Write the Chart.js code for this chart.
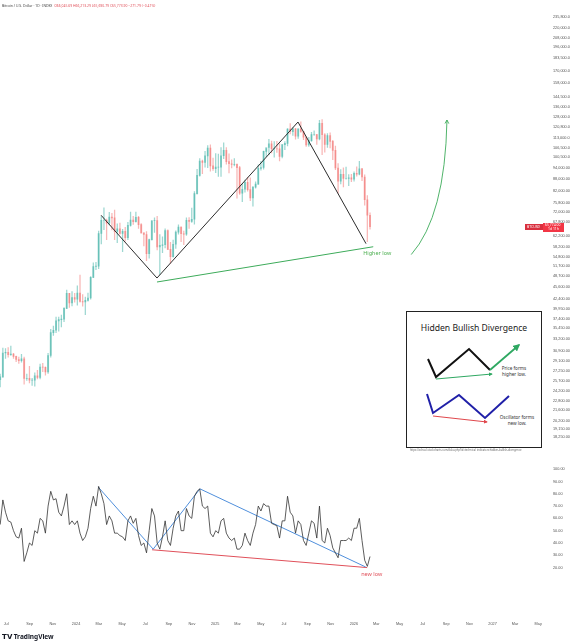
<!DOCTYPE html>
<html>
<head>
<meta charset="utf-8">
<script src="https://cdn.jsdelivr.net/npm/chart.js@4.4.1/dist/chart.umd.min.js"></script>
<style>
  html, body { margin: 0; padding: 0; background: #fff; }
  #wrap { position: relative; width: 576px; height: 643px; overflow: hidden; font-family: 'Noto Sans', Roboto, sans-serif; }
  #priceCanvas { position: absolute; left: 0; top: 0; }
  #rsiCanvas { position: absolute; left: 0; top: 457px; }
  .hdr { position: absolute; left: 2px; top: 3px; font-size: 3.4px; color: #444; white-space: nowrap; }
  .hdr span { color: #e0505a; }
  .logo { position: absolute; left: 2px; top: 632px; font-size: 6.5px; font-weight: 700; color: #131722; white-space: nowrap; }
  #inset { position: absolute; left: 406px; top: 311px; width: 134px; height: 135px; border: 1px solid #222; background: #fff; }
  .cap { position: absolute; left: 410px; top: 448px; font-size: 2.6px; color: #666; white-space: nowrap; }
</style>
</head>
<body>
<div id="wrap">
  <canvas id="priceCanvas" width="576" height="457"></canvas>
  <canvas id="rsiCanvas" width="576" height="186"></canvas>
  <div class="hdr">Bitcoin / U.S. Dollar · 1D · INDEX &nbsp;<span>O66,045.69 H66,213.29 L65,690.79 C65,773.90 −271.79 (−0.41%)</span></div>
  <div id="inset">
    <svg width="134" height="135" viewBox="0 0 134 135" font-family="Noto Sans, Roboto, sans-serif">
      <defs>
        <marker id="ag" viewBox="0 0 10 10" refX="8" refY="5" markerWidth="4" markerHeight="4" orient="auto">
          <path d="M0,0 L10,5 L0,10 z" fill="#2fa862"/>
        </marker>
        <marker id="ar" viewBox="0 0 10 10" refX="8" refY="5" markerWidth="4" markerHeight="4" orient="auto">
          <path d="M0,0 L10,5 L0,10 z" fill="#e0474c"/>
        </marker>
      </defs>
      <text x="67" y="19" font-size="8.6" text-anchor="middle" fill="#222">Hidden Bullish Divergence</text>
      <polyline points="21,47 29,65 62,37 83,58" fill="none" stroke="#111" stroke-width="2"/>
      <line x1="83" y1="58" x2="112" y2="33" stroke="#2fa862" stroke-width="1.8" marker-end="url(#ag)"/>
      <line x1="29" y1="67" x2="85" y2="62" stroke="#2fa862" stroke-width="1" marker-end="url(#ag)"/>
      <text x="107" y="58" font-size="4.6" text-anchor="middle" fill="#333">Price forms</text>
      <text x="107" y="64" font-size="4.6" text-anchor="middle" fill="#333">higher low.</text>
      <polyline points="20,82 26,101 52,83 78,106 102,84" fill="none" stroke="#2020a8" stroke-width="2"/>
      <line x1="26" y1="104" x2="80" y2="110" stroke="#e0474c" stroke-width="1" marker-end="url(#ar)"/>
      <text x="110" y="107" font-size="4.6" text-anchor="middle" fill="#333">Oscillator forms</text>
      <text x="110" y="113" font-size="4.6" text-anchor="middle" fill="#333">new low.</text>
    </svg>
  </div>
  <div class="cap">https://school.stockcharts.com/doku.php?id=technical_indicators:hidden-bullish-divergence</div>
  <div class="logo">𝗧𝗩 TradingView</div>
</div>
<script>
// weekly candles, first week starts Monday 2023-06-12 (day -203 counted from 2024-01-01)
const firstWeekDay = -203;

const weekOpen = [
  25900,26340,30470,30580,30170,30290,29850,29280,29060,29400,26100,26100,25830,25830,26530,26250,27970,27930,27160,30000,34500,35000,37050,37350,37450,39970,43800,41350,42700,
  42270,43900,41700,41600,42000,42600,48300,51600,51700,63100,68400,68400,67200,69700,69400,63900,64900,63100,63900,61500,66300,68500,67800,69600,66600,63300,62700,55800,60800,68200,68300,58100,58700,58900,64200,57300,54800,59100,63600,65600,63000,62800,68400,67900,68800,80400,89900,98000,97200,101200,106100,95200,93700,
  94500,94500,101300,104700,97700,96500,96100,96200,94200,80700,82600,86100,82400,78400,83700,85200,93800,94300,104000,106500,109000,105700,105700,105600,100900,108400,109200,119100,117300,119400,114200,119300,117400,113500,108200,111100,115300,115300,112200,123500,115100,108600,114500,110600,104700,94000,86800,90400,88200,88200,88500,87800,
  91000,90500,93600,89000,77500,70500
];
const weekHigh = [
  26800,31400,31300,31500,31800,30400,29900,29700,30200,29700,26800,28100,26100,27000,27400,28500,28600,28000,30400,35200,35900,37900,37900,38400,40200,44700,43800,44300,43800,
  45900,49000,43500,42800,43900,48500,52800,52900,64000,69900,73800,68900,71800,71300,72800,66900,67200,64700,65500,67500,71900,70000,71900,70000,67000,63300,63800,61000,68300,69400,70000,62700,61800,64900,64500,59800,60600,64100,66500,65700,64000,69400,69500,73600,81500,93300,99600,98700,104000,107800,108300,99900,102700,
  102300,106400,109600,106500,102500,98800,99500,96500,95000,85300,87400,88800,88500,84000,86400,95800,97900,104300,105800,111900,110700,110500,110600,108900,108500,110500,119500,123200,120200,119800,119300,124500,117600,113600,113400,116800,117900,115400,125700,126200,116000,115900,116400,111200,107500,96600,93100,94100,94600,90300,90500,91800,
  94700,97900,93800,90200,79500,71500
];
const weekLow = [
  24800,26250,29500,29700,30000,29500,28900,28600,28800,25200,25800,25400,25000,24900,26000,26000,27200,26600,26900,29700,33900,34500,34800,35700,36900,39900,40200,40600,41500,
  40800,41500,40500,38500,41800,42300,48200,50600,50900,59200,64600,60800,66500,64500,60800,59700,62800,56500,60200,60800,66000,66700,67600,65100,63200,58500,53500,54300,60600,63500,57100,49100,56100,57800,57200,52600,54600,57600,62800,60000,58900,62400,65100,67500,66800,80200,89400,90800,94500,94200,92200,92600,91400,
  89300,89300,99500,96200,91200,94100,95200,78200,80100,76600,81100,81600,77100,74500,83100,85100,92800,93400,100700,102000,103100,100400,103400,98200,100000,105100,107500,115700,114700,112000,112600,116800,111700,107300,107300,110600,114700,108600,111600,102000,103500,106500,106300,98900,93000,80600,85300,83800,87900,84400,86500,86800,
  89500,90200,87000,75000,60000,64800
];
const weekClose = [
  26340,30470,30580,30170,30290,29850,29280,29060,29400,26100,26100,25830,25830,26530,26250,27970,27930,27160,30000,34500,35000,37050,37350,37450,39970,43800,41350,42700,42270,
  43900,41700,41600,42000,42600,48300,51600,51700,63100,68400,68400,67200,69700,69400,63900,64900,63100,63900,61500,66300,68500,67800,69600,66600,63300,62700,55800,60800,68200,68300,58100,58700,58900,64200,57300,54800,59100,63600,65600,63000,62800,68400,67900,68800,80400,89900,98000,97200,101200,106100,95200,93700,94500,
  94500,101300,104700,97700,96500,96100,96200,94200,80700,82600,86100,82400,78400,83700,85200,93800,94300,104000,106500,109000,105700,105700,105600,100900,108400,109200,119100,117300,119400,114200,119300,117400,113500,108200,111100,115300,115300,112200,123500,115100,108600,114500,110600,104700,94000,86800,90400,88200,88200,88500,87800,91000,
  90500,93600,89000,77500,70500,65774
];

// oscillator value at the end of each week
const rsiValues = [
  55,75,65,58,57,50,45,44,52,25,32,40,38,50,48,60,58,48,70,82,75,76,65,62,70,80,55,58,55,
  58,48,42,45,52,68,78,70,86,80,72,55,62,58,48,48,46,45,42,58,62,56,60,46,38,40,32,50,68,62,40,35,45,58,42,38,52,62,66,50,50,68,62,60,78,82,84,70,68,70,48,45,50,
  48,58,60,48,44,42,44,35,35,38,48,42,38,48,55,70,66,72,70,70,56,55,54,44,58,58,78,65,62,48,58,55,42,38,48,58,56,44,70,42,40,52,46,36,32,28,42,42,42,44,42,52,
  52,60,42,26,21,29
];

// drawings, x in days from 2024-01-01
const zigzagDays = [66, 213, 584, 763];
const zigzagPrices = [70500, 48100, 124400, 59300];
const higherLowDays = [213, 782];
const higherLowPrices = [46950, 58200];
const arrowDays = [882, 971, 976];     // start, bend, tip
const arrowPrices = [55500, 70100, 125900];

const rsiBlueDays = [58, 203, 326, 762];
const rsiBlueValues = [85.6, 35, 84, 20.5];
const rsiRedDays = [200, 766];
const rsiRedValues = [34.5, 20];

// axis labels
const priceTicks = [235800, 220000, 208000, 196000, 183500, 170000, 158000, 144500, 136000, 128000, 120800, 113000, 106500, 100500,
  94000, 88000, 82000, 75800, 72000, 67800, 62200, 58200, 54800, 51700, 48700, 45600, 42400, 39950, 37400, 35450, 33200,
  30900, 29100, 27250, 25700, 24200, 22800, 21600, 20200, 19150, 18250];
const rsiTicks = [100, 90, 80, 70, 60, 50, 40, 30, 20];
const monthTickDates = ['2023-07-01','2023-09-01','2023-11-01','2024-01-01','2024-03-01','2024-05-01','2024-07-01','2024-09-01','2024-11-01',
  '2025-01-01','2025-03-01','2025-05-01','2025-07-01','2025-09-01','2025-11-01','2026-01-01','2026-03-01','2026-05-01','2026-07-01',
  '2026-09-01','2026-11-01','2027-01-01','2027-03-01','2027-05-01'];
const monthTickLabels = ['Jul','Sep','Nov','2024','Mar','May','Jul','Sep','Nov','2025','Mar','May','Jul','Sep','Nov','2026','Mar','May','Jul','Sep','Nov','2027','Mar','May'];

const dayMin = -200, dayMax = 1226;
const upColor = 'rgba(38,166,154,0.45)';
const downColor = 'rgba(239,83,80,0.42)';

const candleX = i => firstWeekDay + 7 * i + 3.5;
const isUp = i => weekClose[i] >= weekOpen[i];
const dayOf = s => (Date.UTC(+s.slice(0, 4), +s.slice(5, 7) - 1, +s.slice(8, 10)) - Date.UTC(2024, 0, 1)) / 864e5;
const fmtPrice = v => v >= 100000
  ? v.toLocaleString('en-US', { minimumFractionDigits: 1, maximumFractionDigits: 1 })
  : v.toLocaleString('en-US', { minimumFractionDigits: 2, maximumFractionDigits: 2 });

// green curved arrow + price badge
const priceExtras = {
  id: 'priceExtras',
  afterDatasetsDraw(chart) {
    const { ctx, scales: { x, y } } = chart;
    const p = arrowDays.map((d, i) => [x.getPixelForValue(d), y.getPixelForValue(arrowPrices[i])]);
    ctx.save();
    ctx.strokeStyle = '#3dab5a';
    ctx.lineWidth = 0.9;
    ctx.beginPath();
    ctx.moveTo(p[0][0], p[0][1]);
    ctx.quadraticCurveTo(p[1][0], p[1][1], p[2][0], p[2][1]);
    ctx.stroke();
    const ang = Math.atan2(p[2][1] - p[1][1], p[2][0] - p[1][0]);
    ctx.beginPath();
    ctx.moveTo(p[2][0] - 4 * Math.cos(ang - 0.5), p[2][1] - 4 * Math.sin(ang - 0.5));
    ctx.lineTo(p[2][0], p[2][1]);
    ctx.lineTo(p[2][0] - 4 * Math.cos(ang + 0.5), p[2][1] - 4 * Math.sin(ang + 0.5));
    ctx.stroke();

    // "Higher low" label under the green line end
    ctx.fillStyle = '#4caf50';
    ctx.font = '5.5px "Noto Sans", sans-serif';
    ctx.textBaseline = 'middle';
    ctx.fillText('Higher low', x.getPixelForValue(higherLowDays[1]) - 10, y.getPixelForValue(higherLowPrices[1]) + 7);

    // last price badge
    const last = weekClose[weekClose.length - 1];
    const by = Math.round(y.getPixelForValue(last));
    ctx.fillStyle = '#d9303f';
    ctx.fillRect(525, by - 3, 18, 6);
    ctx.fillStyle = '#f23645';
    ctx.fillRect(543, by - 4, 21, 9);
    ctx.fillStyle = '#fff';
    ctx.font = '3.4px "Noto Sans", sans-serif';
    ctx.fillText('BTCUSD', 527, by);
    ctx.fillText(fmtPrice(last), 545, by - 1.5);
    ctx.fillText('1d 11h', 548, by + 2.5);
    ctx.restore();
  }
};

new Chart(document.getElementById('priceCanvas'), {
  type: 'bar',
  data: {
    datasets: [
      {
        label: 'wick',
        data: weekHigh.map((h, i) => ({ x: candleX(i), y: [weekLow[i], h] })),
        backgroundColor: weekHigh.map((h, i) => isUp(i) ? upColor : downColor),
        barThickness: 0.6,
        grouped: false,
        order: 3
      },
      {
        label: 'body',
        data: weekOpen.map((o, i) => ({ x: candleX(i), y: [Math.min(o, weekClose[i]), Math.max(o, weekClose[i])] })),
        backgroundColor: weekOpen.map((o, i) => isUp(i) ? upColor : downColor),
        barThickness: 1.3,
        grouped: false,
        order: 2
      },
      {
        type: 'line',
        label: 'zigzag',
        data: zigzagDays.map((d, i) => ({ x: d, y: zigzagPrices[i] })),
        borderColor: '#2b2b2b',
        borderWidth: 1,
        pointRadius: 0,
        order: 1
      },
      {
        type: 'line',
        label: 'higher low',
        data: higherLowDays.map((d, i) => ({ x: d, y: higherLowPrices[i] })),
        borderColor: '#3dab5a',
        borderWidth: 1,
        pointRadius: 0,
        order: 1
      }
    ]
  },
  options: {
    responsive: false,
    animation: false,
    layout: { padding: { top: 0, bottom: 2, left: 0, right: 0 } },
    plugins: { legend: { display: false }, tooltip: { enabled: false } },
    scales: {
      x: { type: 'linear', min: dayMin, max: dayMax, display: false, offset: false },
      y: {
        type: 'logarithmic',
        position: 'right',
        min: 16700,
        max: 253300,
        grid: { display: false },
        border: { display: false },
        afterFit: s => { s.width = 34; },
        afterBuildTicks: s => { s.ticks = priceTicks.map(v => ({ value: v })); },
        ticks: { autoSkip: false, padding: 3, color: '#555', font: { size: 3.8 }, callback: v => fmtPrice(v) }
      }
    }
  },
  plugins: [priceExtras]
});

const rsiExtras = {
  id: 'rsiExtras',
  afterDatasetsDraw(chart) {
    const { ctx, scales: { x, y } } = chart;
    ctx.save();
    ctx.fillStyle = '#e0505a';
    ctx.font = '5.5px "Noto Sans", sans-serif';
    ctx.textBaseline = 'middle';
    ctx.fillText('new low', x.getPixelForValue(rsiRedDays[1]) - 6, y.getPixelForValue(rsiRedValues[1]) + 7);
    ctx.restore();
  }
};

new Chart(document.getElementById('rsiCanvas'), {
  type: 'line',
  data: {
    datasets: [
      {
        label: 'oscillator',
        data: rsiValues.map((v, i) => ({ x: candleX(i), y: v })),
        borderColor: '#333',
        borderWidth: 0.8,
        pointRadius: 0
      },
      {
        label: 'blue',
        data: rsiBlueDays.map((d, i) => ({ x: d, y: rsiBlueValues[i] })),
        borderColor: '#4f8fdc',
        borderWidth: 1,
        pointRadius: 0
      },
      {
        label: 'red',
        data: rsiRedDays.map((d, i) => ({ x: d, y: rsiRedValues[i] })),
        borderColor: '#e0505a',
        borderWidth: 1,
        pointRadius: 0
      }
    ]
  },
  options: {
    responsive: false,
    animation: false,
    layout: { padding: { top: 3, bottom: 0, left: 0, right: 0 } },
    plugins: { legend: { display: false }, tooltip: { enabled: false } },
    scales: {
      x: {
        type: 'linear',
        min: dayMin,
        max: dayMax,
        grid: { display: false },
        border: { display: false },
        // keep the plot area the same width as the price pane above
        afterFit: s => { s.height = 38; s.paddingLeft = 0; s.paddingRight = 0; },
        afterBuildTicks: s => { s.ticks = monthTickDates.map(d => ({ value: dayOf(d) })); },
        ticks: { autoSkip: false, maxRotation: 0, padding: 9, color: '#555', font: { size: 3.8 }, callback: (v, i) => monthTickLabels[i] }
      },
      y: {
        position: 'right',
        min: -10.4,
        max: 105.6,
        grid: { display: false },
        border: { display: false },
        afterFit: s => { s.width = 34; },
        afterBuildTicks: s => { s.ticks = rsiTicks.map(v => ({ value: v })); },
        ticks: { autoSkip: false, padding: 3, color: '#555', font: { size: 3.8 }, callback: v => v.toFixed(2) }
      }
    }
  },
  plugins: [rsiExtras]
});
</script>
</body>
</html>
